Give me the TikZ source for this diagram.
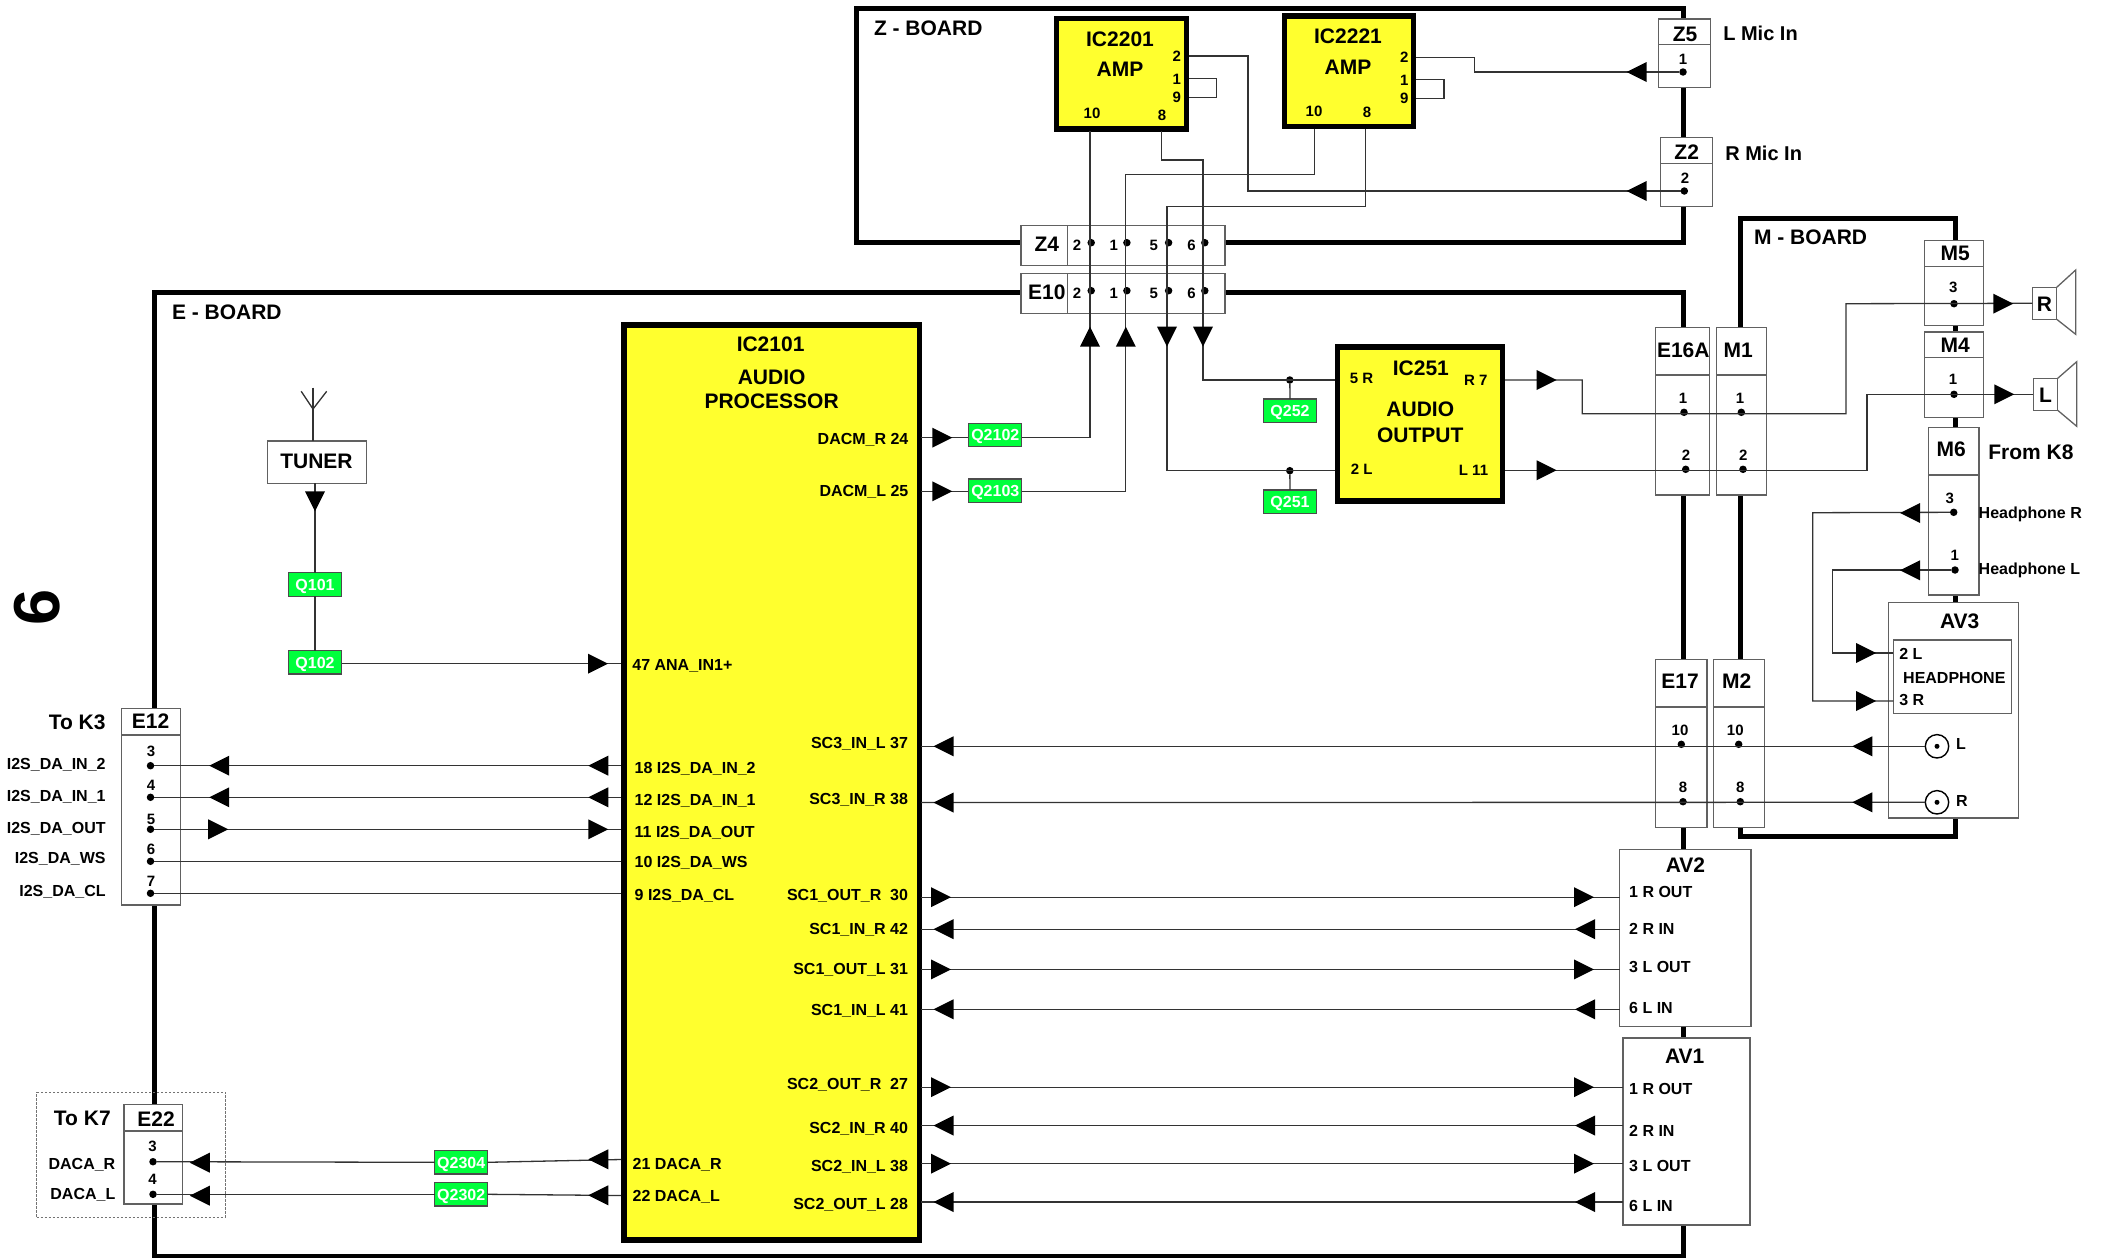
\documentclass[tikz,border=0pt]{standalone}
\usepackage{fontspec}
\setmainfont{Liberation Sans}
\definecolor{icy}{HTML}{FFFF2E}
\definecolor{qg}{HTML}{00FF3C}
\definecolor{wirec}{gray}{0.2}
\definecolor{boxc}{gray}{0.38}
\tikzset{
  boardbox/.style={draw=black,line width=5pt,fill=none,inner sep=0,outer sep=0,miter limit=10},
  cbox/.style={draw=boxc,line width=1.4pt,fill=white,inner sep=0,outer sep=0},
  icbox/.style={draw=black,line width=5.5pt,fill=icy,inner sep=0,outer sep=0},
  qbox/.style={draw=black!70,line width=1.2pt,fill=qg,text=white,inner sep=0,outer sep=0,
     font=\bfseries\fontsize{16}{16}\selectfont,text height=11.5pt,text depth=0pt},
  wire/.style={draw=wirec,line width=1.3pt,line join=miter},
  div/.style={draw=boxc,line width=1.3pt},
  pin/.style={circle,fill=black,inner sep=0,outer sep=0,minimum size=7.5pt},
  lab/.style={inner sep=0,outer sep=0,text depth=0pt},
  tbig/.style={lab,font=\bfseries\fontsize{21}{21}\selectfont,text height=15pt},
  tmed/.style={lab,font=\bfseries\fontsize{16}{16}\selectfont,text height=11.5pt},
  tpin/.style={lab,font=\bfseries\fontsize{15}{15}\selectfont,text height=11pt},
  tbl/.style={lab,font=\bfseries\fontsize{20}{20}\selectfont,text height=14.5pt},
}
\newcounter{tc}
\newcommand\tx[4][]{\stepcounter{tc}\node[tmed,#1] (t\arabic{tc}) at (#2,#3) {#4};}
\newcommand\bx[6][cbox]{\node[#1,anchor=north west,minimum width={(#5-#3)*1pt},minimum height={(#6-#4)*1pt}] (#2) at (#3,#4) {};}
\newcommand\qn[4]{\node[qbox,minimum width=53pt,minimum height=23.5pt] (#1) at (#2,#3) {#4};}
\newcommand\dt[3]{\node[pin] (#1) at (#2,#3) {};}
\newcommand\arR[2]{\fill[black] (#1,#2-10) -- (#1+20,#2) -- (#1,#2+10) -- cycle;}
\newcommand\arL[2]{\fill[black] (#1+20,#2-10) -- (#1,#2) -- (#1+20,#2+10) -- cycle;}
\newcommand\arU[2]{\fill[black] (#1-10,#2+20) -- (#1,#2) -- (#1+10,#2+20) -- cycle;}
\newcommand\arD[2]{\fill[black] (#1-10,#2) -- (#1,#2+20) -- (#1+10,#2) -- cycle;}
% IC side to AV box wires, with arrows
\newcommand\scR[3]{\coordinate (#1) at (921,#2); \draw[wire] (#1) -- (#1 -| #3.west); \arR{931}{#2}\arR{1574}{#2}}
\newcommand\scL[3]{\coordinate (#1) at (921,#2); \draw[wire] (#1) -- (#1 -| #3.west); \arL{933.5}{#2}\arL{1575}{#2}}
\begin{document}
\begin{tikzpicture}[x=1pt,y=-1pt]
\useasboundingbox (0,0) rectangle (2105,1258);
% boards
\bx[boardbox]{zboard}{856.5}{8}{1683}{242.7}
\bx[boardbox]{eboard}{154}{292.7}{1683}{1256.7}
\bx[boardbox]{mboard}{1740.7}{218.7}{1955}{836}
% dashed K7 frame
\bx[draw=black!55,line width=1pt,dash pattern=on 2.5pt off 1.5pt,inner sep=0,outer sep=0]{kframe}{36.7}{1092.3}{225.5}{1217}
% connector boxes
\bx{z4}{1021}{225.7}{1225}{265.3}
\bx{e10}{1021}{273.3}{1225}{313.3}
\draw[div] (1067.6,225.7) -- (1067.6,265.3) (1067.6,273.3) -- (1067.6,313.3);
\bx{z5}{1658.7}{19}{1710.7}{87.7}
\draw[div] (1658.7,44.3) -- (1710.7,44.3);
\bx{z2}{1660.3}{137.7}{1712.3}{206.3}
\draw[div] (1660.3,163.3) -- (1712.3,163.3);
\bx{e16a}{1655.7}{327.3}{1709.3}{495}
\draw[div] (1655.7,375) -- (1709.3,375);
\bx{m1}{1716.3}{327.3}{1766.7}{495}
\draw[div] (1716.3,375) -- (1766.7,375);
\bx{m5}{1924.7}{240.7}{1983.3}{325.3}
\draw[div] (1924.7,266.3) -- (1983.3,266.3);
\bx{m4}{1924.7}{332}{1983.3}{417.3}
\draw[div] (1924.7,357.3) -- (1983.3,357.3);
\bx{m6}{1928.3}{427.3}{1979}{595}
\draw[div] (1928.3,475) -- (1979,475);
\bx{av3}{1888.3}{602.3}{2018.7}{818}
\bx{hp}{1893.3}{640}{2011.7}{713.7}
\bx{e17}{1655.7}{659.3}{1707}{827.3}
\draw[div] (1655.7,707) -- (1707,707);
\bx{m2}{1713.7}{659.3}{1764.3}{827.3}
\draw[div] (1713.7,707) -- (1764.3,707);
\bx{av2}{1619.7}{849.5}{1751}{1026.3}
\bx{av1}{1622.9}{1038}{1749.8}{1224.9}
\bx{e12}{121.4}{708.7}{180.6}{905}
\draw[div] (121.4,735) -- (180.6,735);
\bx{e22}{124}{1104.3}{182.7}{1204}
\draw[div] (124,1131) -- (182.7,1131);
\bx{tuner}{267.6}{441}{366.5}{483.3}
\bx{rbox}{2032.3}{287.3}{2056.7}{319.3}
\bx{lbox}{2033.3}{378.3}{2057.7}{410.3}
% speaker cones
\draw[div] (rbox.north east) -- (2075.7,270) -- (2075.7,334.3) -- (rbox.south east);
\draw[div] (lbox.north east) -- (2076.7,361.7) -- (2076.7,426.3) -- (lbox.south east);
% ICs
\bx[icbox]{ica}{1056.7}{18.7}{1186.4}{129}
\bx[icbox]{icb}{1284.3}{16}{1413.3}{126.3}
\bx[icbox]{icm}{624}{325}{919.5}{1240}
\bx[icbox]{icl}{1337.6}{347}{1502.6}{501.2}
% dots
\dt{z5d}{1683}{72}
\dt{z2d}{1684.3}{191}
\foreach \n/\x in {a/1091.2,b/1126.9,c/1168.6,d/1204.8}{
  \node[pin] (z4\n) at (\x,242.7) {};
  \node[pin] (e10\n) at (\x,290.7) {};
}
\dt{e16d1}{1684}{412.3}
\dt{e16d2}{1685.7}{469.3}
\dt{m1d1}{1741.3}{412.3}
\dt{m1d2}{1743}{469.3}
\dt{m5d}{1954}{303.7}
\dt{m4d}{1954}{394.3}
\dt{m6d3}{1953.7}{512.3}
\dt{m6d1}{1955}{570}
\dt{e17d1}{1681.3}{744.3}
\dt{e17d2}{1683}{801.7}
\dt{m2d1}{1738.7}{744.3}
\dt{m2d2}{1740.3}{801.7}
\dt{d252}{1289.8}{380}
\dt{d251}{1289.8}{470.7}
\dt{e12a}{150.5}{765.7}
\dt{e12b}{150.5}{797.3}
\dt{e12c}{150.5}{829.3}
\dt{e12d}{150.5}{861.3}
\dt{e12e}{150.5}{893.3}
\dt{e22a}{153}{1161.7}
\dt{e22b}{153}{1194.3}
% AV3 jacks
\node[circle,draw=black,line width=1.4pt,fill=white,minimum size=23.4pt,inner sep=0,outer sep=0] (jl) at (1937,746.3) {};
\node[circle,draw=black,line width=1.4pt,fill=white,minimum size=23.4pt,inner sep=0,outer sep=0] (jr) at (1937,802.3) {};
\node[pin,minimum size=5pt] (jlc) at (1937,746.3) {};
\node[pin,minimum size=5pt] (jrc) at (1937,802.3) {};
% named wire ends
\coordinate (ua2) at (1189,56);
\coordinate (ua1) at (1189,78.7);
\coordinate (ua9) at (1189,97.3);
\coordinate (ua10) at (1090,131);
\coordinate (ua8) at (1161.4,131);
\coordinate (ub2) at (1416,57.3);
\coordinate (ub1) at (1416,79.7);
\coordinate (ub9) at (1416,98.3);
\coordinate (ub10) at (1314.5,129);
\coordinate (ub8) at (1365.5,129);
\coordinate (dar) at (921,437.7);
\coordinate (dal) at (921,491.3);
\coordinate (inr) at (1335,380);
\coordinate (inl) at (1335,470.3);
\coordinate (outr) at (1505,380);
\coordinate (outl) at (1505,470.3);
\coordinate (hp2) at (1893.3,653);
\coordinate (hp3) at (1893.3,701);
\coordinate (ana) at (621,663.7);
\coordinate (i18) at (621,765.7);
\coordinate (i12) at (621,797.3);
\coordinate (i11) at (621,829.3);
\coordinate (i10) at (621,861.3);
\coordinate (i9) at (621,893.3);
\coordinate (sc3l) at (921,746.3);
\coordinate (sc3r) at (921,802.5);
\coordinate (i21) at (621,1159.5);
\coordinate (i22) at (621,1195.5);
\coordinate (anttop) at (313,387.7);
% wires
\draw[wire] (ua2) -- (1248,56) -- (1248,191) -- (z2d);
\draw[wire] (ua1) -- (1216.3,78.7) -- (1216.3,97.3) -- (ua9);
\draw[wire] (ub2) -- (1474.7,57.3) -- (1474.7,72) -- (z5d);
\draw[wire] (ub1) -- (1443.9,79.7) -- (1443.9,98.3) -- (ub9);
\draw[wire] (ua10) -- (1090,437.7) -- (dar);
\draw[wire] (ua8) -- (1161.4,160) -- (1203,160) -- (1203,380) -- (inr);
\draw[wire] (ub10) -- (1314.5,174.7) -- (1125.8,174.7) -- (1125.8,491.3) -- (dal);
\draw[wire] (ub8) -- (1365.5,206.7) -- (1167,206.7) -- (1167,470.3) -- (inl);
\draw[wire] (outr) -- (1582.2,380) -- (1582.2,413.7) -- (1846,413.7) -- (1846,303.7) -- (rbox.west);
\draw[wire] (outl) -- (1867,470.3) -- (1867,394.3) -- (lbox.west);
\draw[wire] (m6d3) -- (1812.7,512.7) -- (1812.7,701) -- (hp3);
\draw[wire] (m6d1) -- (1832.7,570) -- (1832.7,653) -- (hp2);
\draw[wire] (jl) -- (sc3l);
\draw[wire] (jr) -- (sc3r);
\draw[wire] (anttop) -- (anttop |- tuner.north);
\draw[wire] (301.2,391.3) -- (313,409) -- (326.7,391.3);
% green transistor boxes
\qn{q2102}{995.3}{435}{Q2102}
\qn{q2103}{995.3}{490.7}{Q2103}
\qn{q252}{1290}{410.8}{Q252}
\qn{q251}{1290}{501.7}{Q251}
\qn{q101}{315}{584.5}{Q101}
\qn{q102}{315}{662.3}{Q102}
\qn{q2304}{461.2}{1162.3}{Q2304}
\qn{q2302}{461.2}{1194.3}{Q2302}
\draw[wire] (d252) -- (q252.north);
\draw[wire] (d251) -- (q251.north);
\draw[wire] (tuner.south -| q101) -- (q101.north);
\draw[wire] (q101.south) -- (q102.north);
\draw[wire] (ana -| q102.east) -- (ana);
\draw[wire] (e12a) -- (i18);
\draw[wire] (e12b) -- (i12);
\draw[wire] (e12c) -- (i11);
\draw[wire] (e12d) -- (i10);
\draw[wire] (e12e) -- (i9);
\draw[wire] (e22a) -- (q2304.west);
\draw[wire] (q2304.east) -- (i21);
\draw[wire] (e22b) -- (q2302.west);
\draw[wire] (q2302.east) -- (i22);
% arrowheads
\arL{1626.7}{72}\arL{1626.7}{191}
\arU{1090}{326.7}\arU{1125.8}{326.7}\arD{1167}{326.7}\arD{1203}{326.7}
\arR{932.3}{437.7}\arR{932.3}{491.3}
\arR{1536.6}{380}\arR{1536.6}{470.3}
\arR{1993.3}{303.7}\arR{1994.3}{394.3}
\arL{1900}{513}\arL{1900}{570.3}
\arR{1856}{653}\arR{1856}{701}
\arL{1852.3}{746.3}\arL{1852.3}{802.3}
\arL{933.5}{746.3}\arL{933.5}{802.5}
\arD{315}{491.3}
\arR{588}{663.7}
\arL{209.2}{765.7}\arL{209.2}{797.3}\arR{208.2}{829.3}
\arL{588.3}{765.7}\arL{588.3}{797.3}\arR{588.3}{829.3}
\arL{189.8}{1162.7}\arL{189.8}{1195.7}
\arL{588.3}{1159.3}\arL{588.3}{1195.3}
% SCART wires
\scR{sa}{897.2}{av2}
\scL{sb}{929.2}{av2}
\scR{sc}{969.4}{av2}
\scL{sd}{1009.3}{av2}
\scR{se}{1087.2}{av1}
\scL{sf}{1125.6}{av1}
\scR{sg}{1163.7}{av1}
\scL{sh}{1202.1}{av1}
% texts: boards and outside labels
\tx[tbig,anchor=west]{874}{28.3}{Z - BOARD}
\tx[tbig,anchor=west]{172}{311.5}{E - BOARD}
\tx[tbig,anchor=west]{1754}{237.3}{M - BOARD}
\stepcounter{tc}\node[lab,font=\bfseries\fontsize{65}{65}\selectfont,text height=46.7pt,rotate=90] (t\arabic{tc}) at (36,607.7) {6};
\tx[tbl,anchor=west]{1723.3}{33.7}{L Mic In}
\tx[tbl,anchor=west]{1725.3}{153.7}{R Mic In}
\tx[tbig,anchor=west]{1988.3}{451.7}{From K8}
\tx[anchor=west]{1978.7}{512.7}{Headphone R}
\tx[anchor=west]{1978.7}{568.7}{Headphone L}
\tx[tbig,anchor=east]{105.6}{721.7}{To K3}
\tx[tbig,anchor=east]{110.7}{1117.7}{To K7}
% ICs
\tx[tbig]{1120}{38.7}{IC2201}
\tx[tbig]{1120}{69.3}{AMP}
\tx[tbig]{1348}{35.7}{IC2221}
\tx[tbig]{1348}{66.7}{AMP}
\tx[tpin]{1176.8}{55.7}{2}
\tx[tpin]{1176.8}{78.7}{1}
\tx[tpin]{1176.8}{96.7}{9}
\tx[tpin]{1092}{112.7}{10}
\tx[tpin]{1162}{114.7}{8}
\tx[tpin]{1404.4}{57}{2}
\tx[tpin]{1404.4}{80}{1}
\tx[tpin]{1404.4}{97.7}{9}
\tx[tpin]{1314}{110.7}{10}
\tx[tpin]{1367}{111.7}{8}
\tx[tbig]{770.6}{344.3}{IC2101}
\tx[tbig]{771.6}{376.7}{AUDIO}
\tx[tbig]{771.6}{401.3}{PROCESSOR}
\tx[tbig]{1420.9}{367.7}{IC251}
\tx[tbig]{1420.3}{409.3}{AUDIO}
\tx[tbig]{1420.3}{435.3}{OUTPUT}
\tx[tpin]{1361.6}{378.3}{5 R}
\tx[tpin]{1475.7}{380.3}{R 7}
\tx[tpin]{1361.6}{468.7}{2 L}
\tx[tpin]{1473.5}{469.7}{L 11}
% connectors text
\tx[tbig]{1046.8}{243.7}{Z4}
\tx[tbig]{1046.8}{292}{E10}
\foreach \x/\s in {1077/2,1113.7/1,1153.8/5,1191.6/6}{
  \stepcounter{tc}\node[tpin] (t\arabic{tc}) at (\x,244.7) {\s};
  \stepcounter{tc}\node[tpin] (t\arabic{tc}) at (\x,292.7) {\s};
}
\tx[tbig]{1685}{34}{Z5}
\tx[tpin]{1683}{59}{1}
\tx[tbig]{1686.7}{151.7}{Z2}
\tx[tpin]{1685}{177.7}{2}
\tx[tbig]{1683.3}{349.7}{E16A}
\tx[tbig]{1738.3}{349.7}{M1}
\tx[tpin]{1683}{397.7}{1}
\tx[tpin]{1740}{397.7}{1}
\tx[tpin]{1686}{454.7}{2}
\tx[tpin]{1743.3}{454.7}{2}
\tx[tbig]{1955.3}{253.3}{M5}
\tx[tpin]{1953.3}{287.3}{3}
\tx[tbig]{1955.3}{344.7}{M4}
\tx[tpin]{1953}{378.7}{1}
\tx[tbig]{2044.5}{303.5}{R}
\tx[tbig]{2045.5}{394.5}{L}
\tx[tbig]{1951.3}{449.3}{M6}
\tx[tpin]{1949.7}{497.7}{3}
\tx[tpin]{1954.7}{554.7}{1}
\tx[tbig]{1959.7}{621.3}{AV3}
\tx[anchor=west]{1899.3}{653.7}{2 L}
\tx{1954.3}{677.3}{HEADPHONE}
\tx[anchor=west]{1899.3}{699.3}{3 R}
\tx[anchor=west]{1956}{743.7}{L}
\tx[anchor=west]{1956}{800.3}{R}
\tx[tbig]{1680}{681.3}{E17}
\tx[tbig]{1736.7}{681.3}{M2}
\tx[tpin]{1680}{729.7}{10}
\tx[tpin]{1735.3}{729.7}{10}
\tx[tpin]{1683}{786.7}{8}
\tx[tpin]{1740.3}{786.7}{8}
\tx[tbig]{1685.4}{864.8}{AV2}
\tx[anchor=west]{1629.2}{892.2}{1 R OUT}
\tx[anchor=west]{1629.2}{928.8}{2 R IN}
\tx[anchor=west]{1629.2}{966.9}{3 L OUT}
\tx[anchor=west]{1629.2}{1007.8}{6 L IN}
\tx[tbig]{1684.7}{1055.9}{AV1}
\tx[anchor=west]{1629.2}{1089}{1 R OUT}
\tx[anchor=west]{1629.2}{1130.6}{2 R IN}
\tx[anchor=west]{1629.2}{1165.5}{3 L OUT}
\tx[anchor=west]{1629.2}{1205.3}{6 L IN}
\tx[tbig]{316.5}{460.7}{TUNER}
% E12
\tx[tbig]{150.5}{721}{E12}
\tx[tpin]{151}{750.7}{3}
\tx[tpin]{151}{784.7}{4}
\tx[tpin]{151}{818.7}{5}
\tx[tpin]{151}{848.7}{6}
\tx[tpin]{151}{880.7}{7}
\tx[anchor=east]{105.6}{763.3}{I2S\_DA\_IN\_2}
\tx[anchor=east]{105.6}{795.7}{I2S\_DA\_IN\_1}
\tx[anchor=east]{105.6}{827.7}{I2S\_DA\_OUT}
\tx[anchor=east]{105.6}{857.7}{I2S\_DA\_WS}
\tx[anchor=east]{105.6}{890.7}{I2S\_DA\_CL}
% E22
\tx[tbig]{156}{1118.7}{E22}
\tx[tpin]{152.6}{1146}{3}
\tx[tpin]{152.6}{1178.7}{4}
\tx[anchor=east]{115.3}{1163.3}{DACA\_R}
\tx[anchor=east]{115.3}{1193.7}{DACA\_L}
% IC2101 pins
\tx[anchor=west]{632.4}{665}{47 ANA\_IN1+}
\tx[anchor=west]{634.7}{767.3}{18 I2S\_DA\_IN\_2}
\tx[anchor=west]{634.7}{799.3}{12 I2S\_DA\_IN\_1}
\tx[anchor=west]{634.7}{831.3}{11 I2S\_DA\_OUT}
\tx[anchor=west]{634.7}{861.3}{10 I2S\_DA\_WS}
\tx[anchor=west]{634.7}{894.7}{9 I2S\_DA\_CL}
\tx[anchor=west]{632.7}{1163.7}{21 DACA\_R}
\tx[anchor=west]{632.7}{1195.7}{22 DACA\_L}
\tx[anchor=east]{908.4}{438.3}{DACM\_R 24}
\tx[anchor=east]{908.4}{490.7}{DACM\_L 25}
\tx[anchor=east]{908}{742.7}{SC3\_IN\_L 37}
\tx[anchor=east]{908}{798.6}{SC3\_IN\_R 38}
\tx[anchor=east]{908}{894.7}{SC1\_OUT\_R\ \ 30}
\tx[anchor=east]{908}{928.8}{SC1\_IN\_R 42}
\tx[anchor=east]{908}{968.3}{SC1\_OUT\_L 31}
\tx[anchor=east]{908}{1009.6}{SC1\_IN\_L 41}
\tx[anchor=east]{908}{1083.6}{SC2\_OUT\_R\ \ 27}
\tx[anchor=east]{908}{1127.4}{SC2\_IN\_R 40}
\tx[anchor=east]{908}{1166.2}{SC2\_IN\_L 38}
\tx[anchor=east]{908}{1203.6}{SC2\_OUT\_L 28}
\end{tikzpicture}
\end{document}
